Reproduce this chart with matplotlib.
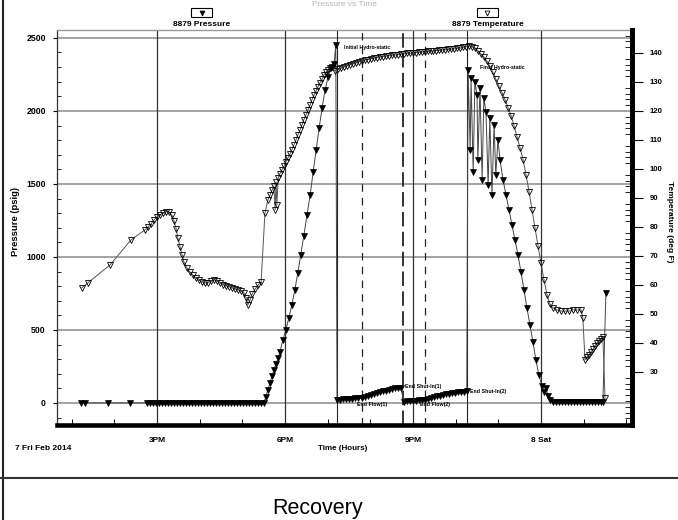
import matplotlib
matplotlib.use("Agg")
import matplotlib.pyplot as plt
from matplotlib.lines import Line2D
from matplotlib.patches import Rectangle
from matplotlib.ticker import MultipleLocator

plt.rcParams['font.family'] = ['Liberation Sans', 'DejaVu Sans']
plt.rcParams['font.weight'] = 'bold'

# ---- data (hours since noon, 7 Feb 2014) ----
# 8879 pressure (psig)
p_time = [13.22, 13.31, 13.85, 14.37,
          14.77, 14.84, 14.91, 14.98, 15.05, 15.12, 15.19, 15.26, 15.33, 15.40,
          15.47, 15.54, 15.61, 15.68, 15.75, 15.82, 15.89, 15.96, 16.03, 16.10,
          16.17, 16.24, 16.31, 16.38, 16.45, 16.52, 16.59, 16.66, 16.73, 16.80,
          16.87, 16.94, 17.01, 17.08, 17.15, 17.22, 17.29, 17.36, 17.43, 17.50,
          17.55, 17.60, 17.65, 17.70, 17.74, 17.79, 17.84, 17.88, 17.95, 18.02,
          18.09, 18.16, 18.23, 18.30, 18.37, 18.44, 18.52, 18.59, 18.66, 18.73,
          18.80, 18.87, 18.94, 19.01, 19.08, 19.15, 19.19,
          19.22, 19.29, 19.36, 19.43, 19.50, 19.57, 19.64, 19.71, 19.80,
          19.87, 19.94, 20.01, 20.08, 20.15, 20.22, 20.29, 20.36, 20.43, 20.50,
          20.57, 20.64, 20.71, 20.79,
          20.86, 20.93, 21.00, 21.07, 21.14, 21.21, 21.28,
          21.35, 21.42, 21.49, 21.56, 21.63, 21.70, 21.77, 21.84, 21.91, 21.98,
          22.05, 22.12, 22.19, 22.26,
          22.29, 22.34, 22.36, 22.41, 22.45, 22.50, 22.52, 22.57, 22.62, 22.66,
          22.71, 22.76, 22.80, 22.85, 22.90, 22.94, 22.99, 23.04,
          23.11, 23.18, 23.25, 23.32, 23.39, 23.46, 23.53, 23.60, 23.67, 23.74,
          23.81, 23.88, 23.95, 24.02, 24.07, 24.12, 24.16, 24.21, 24.28,
          24.35, 24.42, 24.49, 24.56, 24.63, 24.70, 24.77, 24.84, 24.91, 24.98,
          25.05, 25.12, 25.19, 25.26, 25.33, 25.40, 25.45, 25.52]
p_val = [0, 0, 0, 0,
         0, 0, 0, 0, 0, 0, 0, 0, 0, 0,
         0, 0, 0, 0, 0, 0, 0, 0, 0, 0,
         0, 0, 0, 0, 0, 0, 0, 0, 0, 0,
         0, 0, 0, 0, 0, 0, 0, 0, 0, 0,
         41, 89, 137, 185, 226, 267, 308, 349, 431, 500,
         582, 671, 774, 890, 1014, 1144, 1288, 1425, 1582, 1733,
         1883, 2020, 2144, 2233, 2294, 2322, 2452,
         21, 23, 24, 26, 27, 29, 31, 33, 35,
         42, 49, 56, 62, 68, 74, 80, 85, 90, 95,
         99, 102, 105, 8,
         10, 12, 14, 16, 18, 20, 22,
         28, 34, 40, 45, 50, 55, 59, 63, 66, 69,
         72, 75, 77, 79,
         2281, 1733, 2226, 1582, 2199, 2110, 1664, 2158, 1527, 2089,
         1993, 1493, 1952, 1425, 1904, 1562, 1801, 1664,
         1527, 1425, 1322, 1219, 1116, 1014, 897, 774, 651, 534,
         418, 295, 192, 116, 75, 103, 48, 21, 8,
         8, 8, 8, 8, 8, 8, 8, 8, 8, 8,
         8, 8, 8, 8, 8, 8, 8, 753]

# 8879 temperature (deg F)
t_time = [13.24, 13.38, 13.90, 14.39, 14.72, 14.79, 14.86, 14.93, 15.00, 15.07,
          15.14, 15.21, 15.28, 15.35, 15.40, 15.45, 15.49, 15.54, 15.59, 15.63,
          15.70, 15.77, 15.84, 15.91, 15.98, 16.05, 16.12, 16.20, 16.27, 16.34,
          16.41, 16.48, 16.55, 16.62, 16.69, 16.76, 16.83, 16.90, 16.97, 17.04,
          17.09, 17.13, 17.18, 17.23, 17.30, 17.37, 17.44, 17.53,
          17.60, 17.65, 17.70, 17.74, 17.77, 17.79, 17.81, 17.84, 17.88, 17.93,
          17.98, 18.02, 18.07, 18.12, 18.16, 18.21, 18.26, 18.30, 18.35, 18.40,
          18.44, 18.49, 18.54, 18.59, 18.63, 18.68, 18.73, 18.77, 18.82, 18.87,
          18.91, 18.96, 19.01, 19.05, 19.10,
          19.17, 19.24, 19.31, 19.38, 19.45, 19.52, 19.59, 19.66, 19.73, 19.80,
          19.87, 19.94, 20.01, 20.08, 20.15, 20.22, 20.29, 20.36, 20.43, 20.50,
          20.57, 20.64, 20.71, 20.78, 20.85, 20.92, 20.99, 21.06, 21.13, 21.20,
          21.27, 21.34, 21.41, 21.48, 21.55, 21.62, 21.69, 21.76, 21.83, 21.90,
          21.97, 22.04, 22.11, 22.18, 22.25,
          22.31, 22.38, 22.45, 22.52, 22.59, 22.66, 22.73, 22.80, 22.87, 22.94,
          23.01, 23.09, 23.16, 23.23, 23.30, 23.37, 23.44, 23.51, 23.58, 23.65,
          23.72, 23.79, 23.86, 23.93, 24.00, 24.07, 24.14, 24.21, 24.28, 24.37,
          24.47, 24.56, 24.66, 24.75, 24.84, 24.94, 24.98, 25.03, 25.08, 25.12,
          25.17, 25.22, 25.26, 25.31, 25.36, 25.40, 25.45, 25.50]
t_val = [59.0, 60.7, 66.9, 75.5, 79.0, 80.0, 81.0, 82.4, 83.4, 84.1,
         84.8, 85.2, 85.2, 84.1, 82.1, 79.3, 76.2, 73.1, 70.3, 67.9,
         65.9, 64.5, 63.4, 62.4, 61.7, 61.0, 60.7, 60.7, 61.4, 61.7,
         61.4, 60.7, 60.0, 59.7, 59.3, 59.0, 58.6, 58.3, 57.9, 57.2,
         55.5, 53.1, 54.8, 56.9, 58.6, 60.0, 61.0, 84.8,
         89.3, 91.0, 92.8, 94.1, 85.9, 95.5, 87.6, 96.9, 98.3, 99.7,
         101.0, 102.4, 103.8, 105.2, 106.6, 108.3, 110.0, 111.7, 113.4, 115.2,
         116.9, 118.6, 120.3, 122.1, 123.8, 125.5, 126.9, 128.3, 129.7, 131.0,
         132.4, 133.4, 134.1, 134.8, 135.2,
         133.8, 134.3, 134.7, 135.1, 135.5, 135.9, 136.3, 136.6, 136.9, 137.2,
         137.5, 137.7, 138.0, 138.2, 138.4, 138.6, 138.7, 138.9, 139.0, 139.2,
         139.3, 139.4, 139.5, 139.7, 139.8, 139.9, 140.0, 140.1, 140.2, 140.3,
         140.4, 140.5, 140.6, 140.7, 140.8, 140.9, 141.0, 141.1, 141.2, 141.3,
         141.4, 141.6, 141.7, 141.9, 142.2,
         142.4, 142.1, 141.7, 140.7, 139.7, 138.6, 137.2, 135.5, 133.4, 131.0,
         128.6, 126.2, 123.8, 121.0, 118.3, 114.8, 111.0, 107.2, 103.1, 97.9,
         92.1, 85.9, 79.7, 73.4, 67.6, 61.7, 56.6, 53.4, 52.1, 51.4,
         51.0, 51.0, 51.0, 51.4, 51.4, 51.4, 48.6, 34.1, 35.2, 35.9,
         36.9, 37.9, 39.0, 40.0, 40.7, 41.4, 42.1, 21.0]

# test events
event_time = [19.22, 19.80, 20.77, 21.28, 22.27]
event_style = ['-', (0, (6, 5)), (0, (8, 3)), (0, (6, 5)), '-']
event_width = [0.8, 0.9, 1.3, 0.9, 0.8]
event_labels = ['Initial Hydro-static', 'End Flow(1)', 'End Shut-In(1)',
                'End Flow(2)', 'End Shut-In(2)', 'Final Hydro-static']
label_pos = [(19.38, 2431), (19.69, -10), (20.81, 110),
             (21.16, -10), (22.34, 75), (22.57, 2294)]

x_ticks = [15, 18, 21, 24]
x_ticklabels = ['3PM', '6PM', '9PM', '8 Sat']
p_ticks = [0, 500, 1000, 1500, 2000, 2500]
t_ticks = [30, 40, 50, 60, 70, 80, 90, 100, 110, 120, 130, 140]

W, H = 678, 520


def fx(x):
    return x / W


def fy(y):
    return 1 - y / H


fig = plt.figure(figsize=(6.78, 5.2), dpi=100)
ax = fig.add_axes([fx(57), fy(425), fx(632) - fx(57), fy(30) - fy(425)])
ax2 = ax.twinx()

ax.set_xlim(12.657, 26.132)
ax.set_ylim(-151, 2554)
ax2.set_ylim(11.7, 147.9)

# grid
for p in p_ticks:
    ax.axhline(p, color='#8a8a8a', lw=1.1, zorder=0)
for t in x_ticks:
    ax.axvline(t, color='#333333', lw=0.9, zorder=0)
for t, ls, lw in zip(event_time, event_style, event_width):
    ax.axvline(t, color='#222222', ls=ls, lw=lw, zorder=0)

for lab, (tx, ty) in zip(event_labels, label_pos):
    ax.text(tx, ty, lab, fontsize=3.8, va='center', ha='left', zorder=1)

ax.plot(p_time, p_val, color='#444444', lw=0.7, marker='v', ms=4.2,
        mfc='black', mec='black', mew=0.5, zorder=3)
ax2.plot(t_time, t_val, color='#555555', lw=0.7, marker='v', ms=4.8,
         mfc='none', mec='black', mew=0.6, zorder=3)

# axes styling
ax.set_yticks(p_ticks)
ax.yaxis.set_minor_locator(MultipleLocator(100))
ax.tick_params(axis='y', which='major', direction='out', length=3, width=0.8,
               labelsize=6.3, pad=5)
ax.tick_params(axis='y', which='minor', direction='in', length=3, width=0.6)
ax.set_xticks(x_ticks)
ax.set_xticklabels(x_ticklabels)
ax.xaxis.set_minor_locator(MultipleLocator(1))
ax.tick_params(axis='x', which='major', direction='in', length=0,
               labelsize=6, pad=9)
ax.tick_params(axis='x', which='minor', direction='in', length=4, width=0.7)

ax2.set_yticks(t_ticks)
ax2.yaxis.set_minor_locator(MultipleLocator(2))
ax2.tick_params(axis='y', which='major', direction='out', length=8, width=0.8,
                labelsize=5.6, pad=5)
ax2.tick_params(axis='y', which='minor', direction='in', length=5, width=0.6)

ax.spines['bottom'].set_linewidth(3.3)
ax.spines['bottom'].set_color('black')
ax.spines['left'].set_linewidth(0.9)
ax.spines['left'].set_color('#333333')
ax.spines['top'].set_linewidth(1.0)
ax.spines['top'].set_color('#999999')
ax.spines['right'].set_visible(False)
for s in ['left', 'top', 'bottom']:
    ax2.spines[s].set_visible(False)
ax2.spines['right'].set_linewidth(3.6)
ax2.spines['right'].set_color('black')

fig.text(fx(15), fy(449), '7 Fri Feb 2014', fontsize=6, va='center', ha='left')
fig.text(fx(343), fy(449), 'Time (Hours)', fontsize=5.8, va='center', ha='center')
fig.text(fx(15), fy(222), 'Pressure (psig)', fontsize=6.8, rotation=90,
         va='center', ha='center')
fig.text(fx(670), fy(222), 'Temperature (deg F)', fontsize=6, rotation=270,
         va='center', ha='center')

# legend boxes
for cx, name, face in [(201.5, '8879 Pressure', 'black'),
                       (487.5, '8879 Temperature', 'none')]:
    fig.add_artist(Rectangle((fx(cx - 10.5), fy(17)), 21 / W, 9 / H,
                             transform=fig.transFigure, fill=False,
                             ec='black', lw=0.8))
    fig.add_artist(Line2D([fx(cx)], [fy(12.5)], transform=fig.transFigure,
                          marker='v', ms=3.5, mfc=face, mec='black', mew=0.6,
                          ls='none'))
    fig.text(fx(cx), fy(24), name, fontsize=6, ha='center', va='center')

# report title and page frame
fig.text(fx(344), fy(0.5), 'Pressure vs Time', fontsize=6, color='#b5b5b5',
         ha='center', va='top', weight='normal')
fig.add_artist(Line2D([fx(2.5), fx(2.5)], [0, 1], transform=fig.transFigure,
                      color='#222222', lw=1.5))
fig.add_artist(Line2D([0, 1], [fy(478), fy(478)], transform=fig.transFigure,
                      color='#333333', lw=1.5))
fig.text(fx(318), fy(514), 'Recovery', fontsize=15.5, ha='center',
         va='baseline', weight='normal')

fig.savefig('out.png', dpi=100)
